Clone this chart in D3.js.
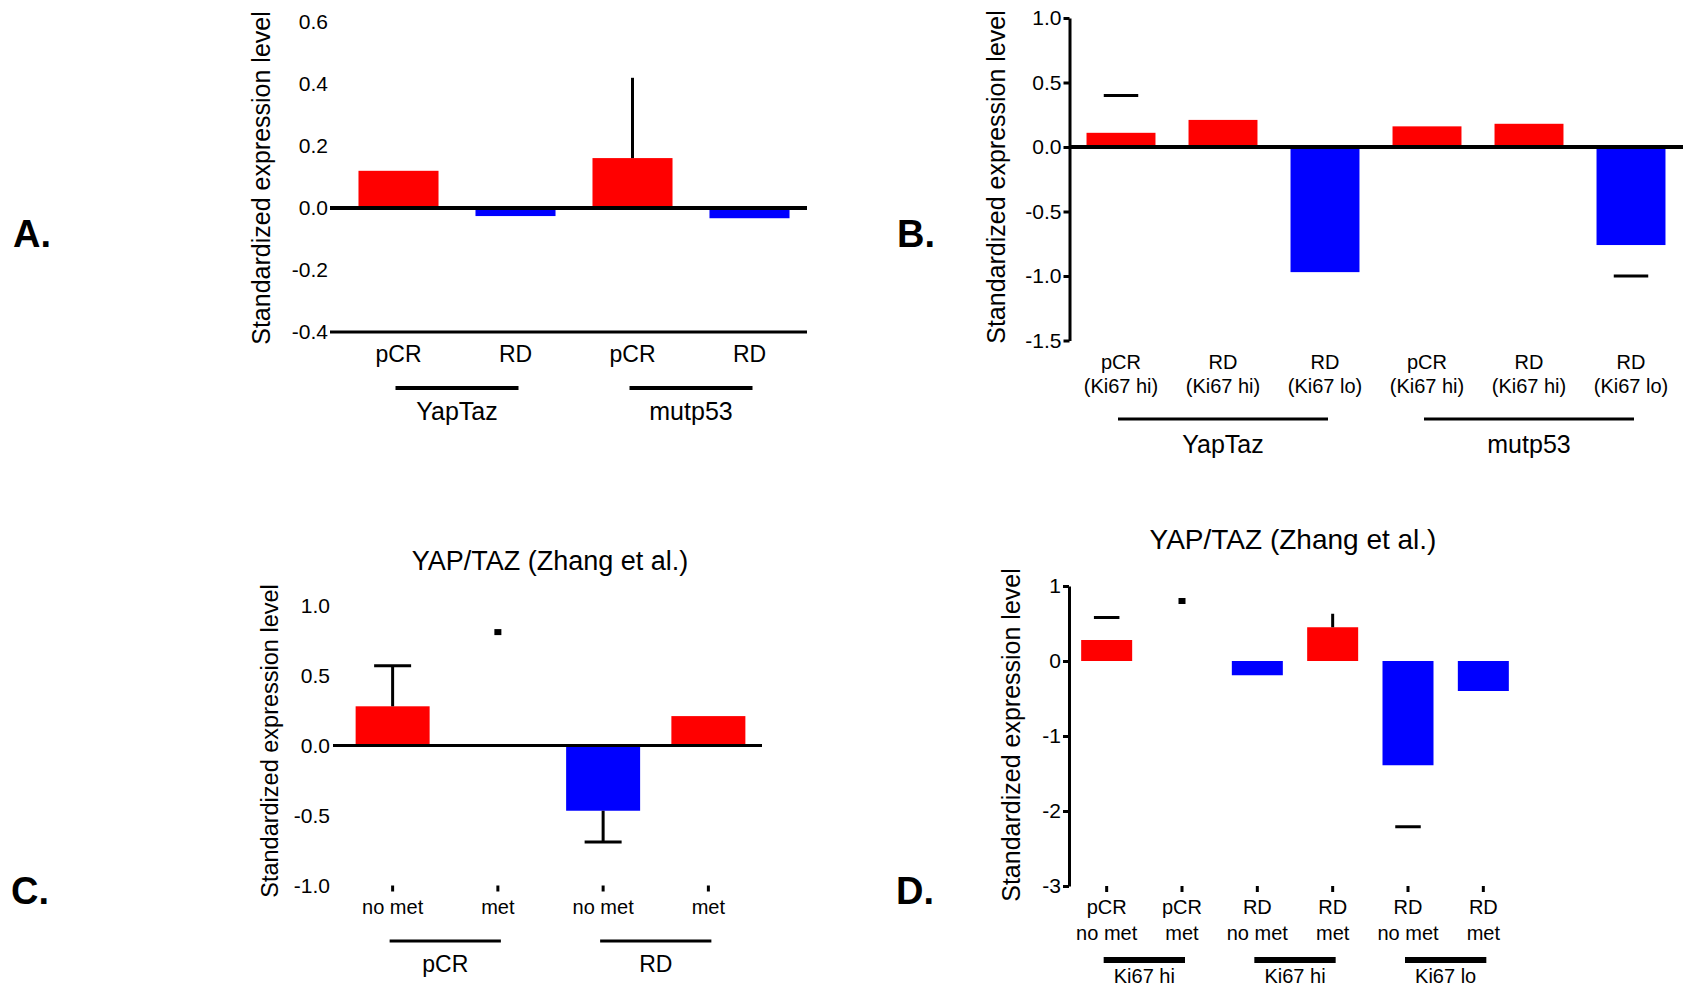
<!DOCTYPE html>
<html>
<head>
<meta charset="utf-8">
<script src="https://cdnjs.cloudflare.com/ajax/libs/d3/7.8.5/d3.min.js"></script>
<style>
  body { margin: 0; background: #fff; }
  text { font-family: "Liberation Sans", Arial, sans-serif; fill: #000; }
</style>
</head>
<body>
<div id="chart"></div>
<script>
// A: YapTaz / mutp53 signatures, pCR vs RD
var aCats = ["pCR", "RD", "pCR", "RD"];
var aVals = [0.12, -0.026, 0.161, -0.033];
var aErr = [null, null, 0.42, null];
var aGroups = ["YapTaz", "mutp53"];
var aGroupSpan = [[0, 1], [2, 3]];
var aTicks = [0.6, 0.4, 0.2, 0.0, -0.2, -0.4];

// B: split by Ki67
var bCats = [["pCR", "(Ki67 hi)"], ["RD", "(Ki67 hi)"], ["RD", "(Ki67 lo)"],
             ["pCR", "(Ki67 hi)"], ["RD", "(Ki67 hi)"], ["RD", "(Ki67 lo)"]];
var bVals = [0.11, 0.21, -0.97, 0.16, 0.18, -0.76];
var bErr = [0.40, null, null, null, null, -1.0];
var bGroups = ["YapTaz", "mutp53"];
var bGroupSpan = [[0, 2], [3, 5]];
var bTicks = [1.0, 0.5, 0.0, -0.5, -1.0, -1.5];

// C: YAP/TAZ (Zhang et al.), by metastasis
var cCats = ["no met", "met", "no met", "met"];
var cVals = [0.28, 0, -0.466, 0.21];
var cErr = [0.57, 0.81, -0.69, null];
var cGroups = ["pCR", "RD"];
var cGroupSpan = [[0, 1], [2, 3]];
var cTicks = [1.0, 0.5, 0.0, -0.5, -1.0];

// D: YAP/TAZ (Zhang et al.), by metastasis and Ki67
var dCats = [["pCR", "no met"], ["pCR", "met"], ["RD", "no met"],
             ["RD", "met"], ["RD", "no met"], ["RD", "met"]];
var dVals = [0.28, 0, -0.19, 0.45, -1.39, -0.40];
var dErr = [0.58, 0.8, null, 0.63, -2.21, null];
var dGroups = ["Ki67 hi", "Ki67 hi", "Ki67 lo"];
var dGroupSpan = [[0, 1], [2, 3], [4, 5]];
var dTicks = [1, 0, -1, -2, -3];

var red = "#ff0000", blue = "#0000ff";
var yLabel = "Standardized expression level";

var svg = d3.select("#chart").append("svg")
    .attr("width", 1683)
    .attr("height", 991);

// plain hyphen for negatives
function hyphen(f) {
    return function(d) { return f(d).replace("\u2212", "-"); };
}

function drawPanel(p) {
    var g = svg.append("g");
    var idx = d3.range(p.vals.length);

    var x = d3.scaleBand().domain(idx).range(p.xRange)
        .paddingInner(p.pad).paddingOuter(p.pad / 2);
    var y = d3.scaleLinear().domain(p.yDomain).range(p.yRange);
    var cx = function(i) { return x(i) + x.bandwidth() / 2; };

    // bars
    g.selectAll("rect.bar").data(idx).enter().append("rect")
        .attr("class", "bar")
        .attr("x", function(i) { return x(i); })
        .attr("y", function(i) { return y(Math.max(0, p.vals[i])); })
        .attr("width", x.bandwidth())
        .attr("height", function(i) { return Math.abs(y(p.vals[i]) - y(0)); })
        .attr("fill", function(i) { return p.vals[i] >= 0 ? red : blue; });

    // error marks
    idx.forEach(function(i) {
        var e = p.err[i], kind = p.errDraw[i];
        if (e == null) return;
        if (kind.indexOf("stem") >= 0) {
            g.append("line")
                .attr("x1", cx(i)).attr("x2", cx(i))
                .attr("y1", y(p.vals[i])).attr("y2", y(e))
                .attr("stroke", "#000").attr("stroke-width", 3);
        }
        if (kind.indexOf("cap") >= 0) {
            g.append("line")
                .attr("x1", cx(i) - x.bandwidth() * 0.25).attr("x2", cx(i) + x.bandwidth() * 0.25)
                .attr("y1", y(e)).attr("y2", y(e))
                .attr("stroke", "#000").attr("stroke-width", 3);
        }
        if (kind == "dot") {
            g.append("rect")
                .attr("x", cx(i) - 3.5).attr("y", y(e) - 3)
                .attr("width", 7).attr("height", 6)
                .attr("fill", "#000");
        }
    });

    // zero line and extra horizontal rules
    p.rules.forEach(function(r) {
        g.append("line")
            .attr("x1", r.x[0]).attr("x2", r.x[1])
            .attr("y1", y(r.at)).attr("y2", y(r.at))
            .attr("stroke", "#000").attr("stroke-width", r.w);
    });

    // y axis
    var ya = d3.axisLeft(y).tickValues(p.ticks)
        .tickFormat(p.fmt)
        .tickSizeInner(p.tickLen).tickSizeOuter(0)
        .tickPadding(p.tickPad);
    var ag = g.append("g")
        .attr("transform", "translate(" + p.axisX + ",0)")
        .call(ya);
    ag.selectAll("text").style("font-size", "21px").attr("fill", "#000");
    ag.selectAll(".tick line").attr("stroke-width", 3);
    if (p.axisLine) {
        ag.select(".domain").attr("stroke-width", 3);
    } else {
        ag.select(".domain").remove();
    }

    // small ticks under the categories
    if (p.bottomTicks) {
        var xa = g.append("g")
            .attr("transform", "translate(0," + y(p.yDomain[0]) + ")")
            .call(d3.axisBottom(x).tickSize(6).tickFormat(""));
        xa.select(".domain").remove();
        xa.selectAll(".tick line").attr("stroke-width", 3);
    }

    // category labels
    idx.forEach(function(i) {
        var lines = [].concat(p.cats[i]);
        lines.forEach(function(t, k) {
            g.append("text")
                .attr("x", cx(i))
                .attr("y", p.catY + k * p.catLH)
                .attr("dy", "0.35em")
                .attr("text-anchor", "middle")
                .style("font-size", p.catFont + "px")
                .text(t);
        });
    });

    // group brackets
    p.groups.forEach(function(name, k) {
        var s = p.spans[k];
        var x0 = cx(s[0]) - 3, x1 = cx(s[1]) + 3;
        g.append("line")
            .attr("x1", x0).attr("x2", x1)
            .attr("y1", p.groupLineY).attr("y2", p.groupLineY)
            .attr("stroke", "#000").attr("stroke-width", p.groupLineW);
        g.append("text")
            .attr("x", (x0 + x1) / 2)
            .attr("y", p.groupY)
            .attr("dy", "0.35em")
            .attr("text-anchor", "middle")
            .style("font-size", p.groupFont + "px")
            .text(name);
    });

    // y title
    g.append("text")
        .attr("transform", "translate(" + p.yTitle[0] + "," + p.yTitle[1] + ") rotate(-90)")
        .attr("dy", "0.35em")
        .attr("text-anchor", "middle")
        .style("font-size", p.yTitleFont + "px")
        .text(yLabel);

    if (p.title) {
        g.append("text")
            .attr("x", p.title.x).attr("y", p.title.y)
            .attr("dy", "0.35em")
            .attr("text-anchor", "middle")
            .style("font-size", p.title.size + "px")
            .text(p.title.text);
    }

    // panel letter
    svg.append("text")
        .attr("x", p.letter[1]).attr("y", p.letter[2])
        .style("font-size", "38px")
        .style("font-weight", "bold")
        .text(p.letter[0]);
}

var fmt1 = hyphen(d3.format(".1f"));

drawPanel({
    cats: aCats, vals: aVals, err: aErr, errDraw: ["", "", "stem", ""],
    groups: aGroups, spans: aGroupSpan, ticks: aTicks, fmt: fmt1,
    xRange: [340, 808], pad: 0.316,
    yDomain: [-0.4, 0.6], yRange: [332, 22],
    axisX: 331, tickLen: 0, tickPad: 3, axisLine: false,
    rules: [{at: 0, x: [330, 807], w: 4}, {at: -0.4, x: [330, 807], w: 3}],
    bottomTicks: false,
    catY: 354, catLH: 0, catFont: 23,
    groupLineY: 388, groupLineW: 4, groupY: 411, groupFont: 25,
    yTitle: [261, 178], yTitleFont: 25,
    letter: ["A.", 13, 247]
});

drawPanel({
    cats: bCats, vals: bVals, err: bErr, errDraw: ["cap", "", "", "", "", "cap"],
    groups: bGroups, spans: bGroupSpan, ticks: bTicks, fmt: fmt1,
    xRange: [1070, 1682], pad: 0.324,
    yDomain: [-1.5, 1.0], yRange: [340.5, 18],
    axisX: 1069.5, tickLen: 6, tickPad: 2, axisLine: true,
    rules: [{at: 0, x: [1069, 1683], w: 4}],
    bottomTicks: false,
    catY: 362, catLH: 24, catFont: 20,
    groupLineY: 419, groupLineW: 3, groupY: 444, groupFont: 25,
    yTitle: [996, 177], yTitleFont: 25,
    letter: ["B.", 897, 247]
});

drawPanel({
    cats: cCats, vals: cVals, err: cErr, errDraw: ["stem cap", "dot", "stem cap", ""],
    groups: cGroups, spans: cGroupSpan, ticks: cTicks, fmt: fmt1,
    xRange: [340, 761], pad: 0.297,
    yDomain: [-1, 1], yRange: [885.5, 605.5],
    axisX: 331, tickLen: 0, tickPad: 1, axisLine: false,
    rules: [{at: 0, x: [333, 762], w: 3}],
    bottomTicks: true,
    catY: 907, catLH: 0, catFont: 20,
    groupLineY: 941, groupLineW: 3, groupY: 964, groupFont: 23,
    yTitle: [270, 741], yTitleFont: 23.5,
    title: {text: "YAP/TAZ (Zhang et al.)", x: 550, y: 561, size: 27},
    letter: ["C.", 11, 904]
});

drawPanel({
    cats: dCats, vals: dVals, err: dErr, errDraw: ["cap", "dot", "", "stem", "cap", ""],
    groups: dGroups, spans: dGroupSpan, ticks: dTicks, fmt: hyphen(d3.format("d")),
    xRange: [1069, 1521], pad: 0.323,
    yDomain: [-3, 1], yRange: [886, 586],
    axisX: 1069, tickLen: 6, tickPad: 2, axisLine: true,
    rules: [],
    bottomTicks: true,
    catY: 907, catLH: 26, catFont: 20,
    groupLineY: 960, groupLineW: 6, groupY: 976, groupFont: 20,
    yTitle: [1011, 735], yTitleFont: 25,
    title: {text: "YAP/TAZ (Zhang et al.)", x: 1293, y: 539, size: 28},
    letter: ["D.", 896, 904]
});
</script>
</body>
</html>
